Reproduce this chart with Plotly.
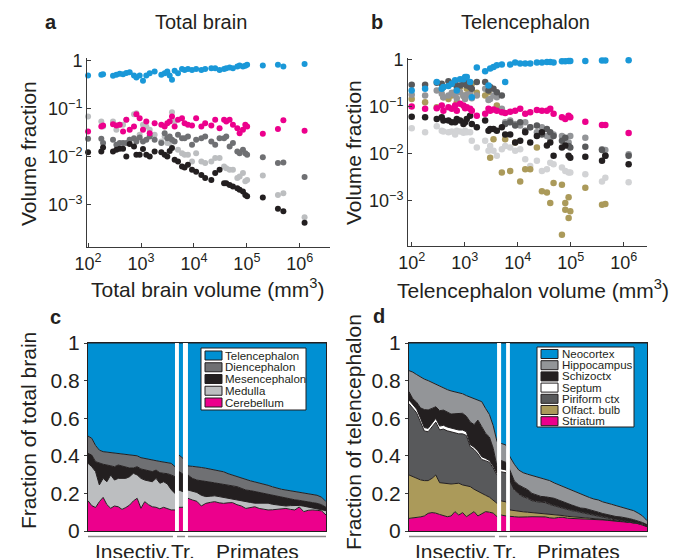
import numpy as np
import plotly.graph_objects as go

# ---------------- DATA ----------------
# Panel a: volume fraction of total brain vs total brain volume (mm^3)
a_volume = [100, 178, 192, 296, 343, 396, 458, 528, 612, 738, 818, 944, 1090, 1260, 1460, 1810,
            2420, 2800, 3140, 3480, 3850, 4320, 5000, 5950, 6660, 7700, 9200, 11000, 13800, 16300,
            21300, 25200, 30500, 37100, 40800, 47200, 54500, 66000, 72900, 84300, 93400, 101000,
            200000, 386000, 489000, 1230000]
a_telencephalon = [.495, .511, .528, .487, .511, .536, .528, .562, .581, .495, .45, .495, .383, .495, .553,
                   .60, .511, .553, .60, .495, .402, .619, .553, .681, .649, .681, .649, .681, .649, .681,
                   .703, .703, .649, .681, .703, .726, .703, .762, .80, .762, .787, .826, .80, .826, .762, .866]
a_cerebellum = [.0337, .0429, .045, .048, .045, .0464, .0337, .059, .0365, .0429, .0775, .064, .0365, .0545,
                .0311, .0503, .0464, .0429, .0503, .0545, .069, .0429, .059, .064, .0503, .0464, .045, .064,
                .0429, .0503, .045, .059, .0396, .059, .0545, .059, .0464, .0396, .0311, .0365, .0464, .0429,
                .0301, .038, .058, .035]
a_diencephalon = [.0237, .0237, .0193, .0226, .0178, .0193, .0193, .0193, .0226, .0245, .0209, .0253, .0209,
                  .0226, .0265, .0226, .0193, .0311, .0245, .0265, .0226, .0209, .0287, .0245, .0245, .0265,
                  .0178, .0226, .0245, .0265, .0209, .0178, .0245, .0245, .0265, .0164, .0193, .0129, .0119,
                  .014, .0119, .011, .0098, .0074, .0076, .0038]
a_medulla = [.0692, .0545, .0429, .0545, .0365, .0464, .0464, .059, .0226, .0775, .0812, .0287, .0464, .0429,
             .0365, .0287, .0209, .0265, .0193, .0193, .0853, .0545, .014, .0119, .011, .011, .008, .0119, .008,
             .0074, .008, .0094, .0094, .0063, .0058, .0054, .0054, .0036, .0039, .0046, .0031, .0033, .0041,
             .0016, .00175, .00055]
a_mesencephalon = [.0125, .0129, .0156, .0129, .014, .0147, .0147, .0102, .0184, .0164, .011, .011, .0145, .011,
                   .0102, .0129, .0125, .011, .0102, .0133, .0152, .0087, .008, .0063, .006, .0068, .0054, .0049,
                   .0042, .0036, .0033, .0046, .0054, .0028, .0028, .0026, .0024, .0022, .00205, .0019, .0016,
                   .0015, .00142, .00083, .00073, .00042]

# Panel b: volume fraction of telencephalon vs telencephalon volume (mm^3)
b_volume = [100, 179, 297, 369, 396, 493, 570, 659, 709, 819, 946, 1018, 1094, 1265, 1361, 1692, 2431, 2812,
            3022, 3494, 4039, 5022, 5806, 7218, 8974, 11150, 13870, 17230, 23020, 28640, 35580, 41130, 47550,
            68370, 79060, 91390, 98300, 188800, 389900, 450800, 1240000]
b_neocortex = [.224, .243, .338, .243, .264, .277, .311, .367, .224, .385, .385, .432, .432, .338, .161, .685,
               .572, .286, .652, .708, .768, .794, .338, .794, .877, .835, .835, .835, .877, .877, .906, .906,
               .877, .936, .936, .95, .95, .95, .968, .968, .98]
b_striatum = [.102, .091, .094, .107, .083, .098, .091, .107, .083, .116, .107, .094, .098, .091, .083, .065,
              .071, .091, .083, .088, .083, .077, .074, .079, .083, .091, .071, .077, .086, .083, .083, .091,
              .071, .060, .055, .065, .060, .0485, .041, .041, .0277]
b_schizocortex = [.062, .060, .055, .060, .051, .051, .047, .047, .055, .051, .043, .047, .055, .065, .043, .037,
                  .051, .031, .034, .034, .031, .037, .026, .026, .0175, .019, .029, .0175, .024, .029, .015,
                  .0175, .0091, .0137, .015, .0091, .0083, .0087, .0071, .0091, .006]
b_septum = [.035, .029, .0385, .031, .030, .029, .030, .026, .031, .030, .028, .031, .029, .029, .019, .0137,
            .019, .0116, .0148, .0116, .0091, .0126, .0148, .0137, .0116, .0126, .0077, .0055, .0071, .0043,
            .0047, .0065, .006, .0051, .0043, .004, .004, .0037, .0026, .0031, .0025]
b_olfactory = [.148, .126, .098, .243, .161, .148, .175, .206, .126, .264, .175, .161, .243, .206, .311, .2,
               .175, .206, .0083, .0206, .107, .004, .0206, .0043, .0175, .0026, .0047, .0047, .0137, .0016,
               .0015, .0009, .0024, .0022, .0009, .0012, .0006, .0019, .00083, .00086, .000107]
b_hippocampus = [.181, .175, .224, .19, .161, .175, .2, .181, .153, .206, .17, .148, .181, .19, .153, .175,
                 .243, .14, .148, .175, .161, .091, .047, .051, .043, .040, .047, .037, .029, .037, .024, .021,
                 .026, .024, .021, .0175, .024, .022, .0126, .0121, .0098]
b_piriform = [.296, .296, .327, .311, .264, .349, .311, .338, .264, .286, .311, .367, .286, .264, .243, .338,
              .338, .224, .264, .243, .206, .175, .043, .047, .040, .047, .031, .037, .040, .026, .034, .029,
              .024, .019, .022, .0148, .0137, .0142, .0121, .0091, .0091]
# additional olfactory-bulb readings (very small fractions)
b_olfactory_extra_volume = [68370, 91390, 79060]
b_olfactory_extra = [.00019, .00043, .00065]

# Panels c, d: species grouped (insectivores, tree shrews, primates)
group_names = ["Insectiv.", "Tr.", "Primates"]
group_sizes = [24, 2, 32]

c_cerebellum = [.161, .135, .125, .156, .179, .14, .121, .133, .129, .115, .125, .138, .16, .174, .121, .156,
                .14, .129, .126, .118, .126, .12, .112, .112,
                .126, .126,
                .174, .165, .158, .133, .147, .152, .156, .15, .147, .15, .151, .14, .133, .12, .125, .129,
                .12, .115, .112, .113, .115, .118, .12, .115, .112, .128, .103, .11, .112, .11, .107, .085]
c_medulla = [.199, .207, .191, .089, .101, .122, .177, .138, .151, .165, .155, .151, .147, .124, .159, .115,
             .125, .133, .154, .136, .136, .13, .108, .088,
             .092, .083,
             .044, .047, .047, .057, .036, .033, .031, .033, .031, .024, .019, .025, .027, .036, .027, .019,
             .029, .035, .036, .029, .023, .017, .013, .02, .025, .008, .029, .018, .012, .01, .009, .023]
c_mesencephalon = [.053, .062, .053, .115, .075, .089, .047, .071, .071, .065, .062, .046, .028, .044, .05, .053,
                   .055, .054, .044, .056, .045, .055, .078, .089,
                   .098, .094,
                   .08, .068, .066, .076, .079, .075, .069, .07, .07, .07, .07, .071, .067, .062, .063, .062,
                   .057, .05, .047, .046, .045, .044, .042, .035, .029, .027, .028, .027, .027, .027, .024, .018]
c_diencephalon = [.092, .089, .086, .07, .067, .069, .073, .074, .062, .066, .067, .073, .069, .058, .06, .061,
                  .06, .061, .05, .06, .06, .058, .062, .053,
                  .088, .084,
                  .048, .064, .071, .072, .072, .07, .071, .069, .067, .061, .057, .053, .053, .054, .052, .051,
                  .05, .05, .048, .047, .044, .043, .043, .044, .044, .044, .043, .044, .044, .043, .04, .03]
c_telencephalon = [.495, .507, .545, .57, .578, .58, .582, .584, .587, .589, .591, .592, .596, .60, .61, .615,
                   .62, .623, .626, .63, .633, .637, .64, .658,
                   .596, .613,
                   .654, .656, .658, .662, .666, .67, .673, .678, .685, .695, .703, .711, .72, .728, .733, .739,
                   .744, .75, .757, .765, .773, .778, .782, .786, .79, .793, .797, .801, .805, .81, .82, .844]

d_striatum = [.067, .069, .072, .075, .08, .094, .098, .095, .088, .08, .076, .08, .103, .085, .098, .076,
              .09, .103, .08, .09, .103, .10, .095, .076,
              .085, .08,
              .08, .076, .074, .073, .075, .076, .076, .076, .075, .07, .068, .072, .073, .068, .067, .067,
              .067, .065, .063, .062, .06, .059, .057, .053, .052, .05, .049, .045, .044, .039, .033, .023]
d_olfactory = [.231, .22, .212, .197, .188, .174, .182, .203, .169, .175, .177, .17, .149, .169, .147, .163,
               .146, .119, .13, .11, .087, .08, .067, .071,
               .075, .075,
               .032, .032, .03, .029, .025, .022, .02, .019, .018, .02, .019, .013, .009, .01, .008, .006,
               .005, .005, .005, .004, .004, .003, .001, .002, .001, .001, .001, .001, .001, .001, .001, .001]
d_piriform = [.379, .363, .344, .308, .264, .26, .273, .281, .281, .287, .28, .277, .27, .263, .272, .269,
              .212, .211, .20, .18, .184, .185, .173, .15,
              .155, .155,
              .155, .11, .092, .08, .074, .063, .06, .058, .058, .051, .047, .041, .039, .038, .033, .031,
              .027, .026, .024, .022, .017, .013, .011, .008, .006, .005, .004, .003, .001, .001, .001, .001]
d_septum = [.02, .02, .02, .02, .018, .018, .02, .02, .02, .02, .02, .02, .02, .02, .02, .02,
            .012, .012, .015, .015, .012, .01, .01, .01,
            .015, .015,
            .004, .004, .004, .004, .004, .004, .004, .004, .004, .004, .004, .004, .004, .004, .004, .004,
            .004, .004, .004, .004, .004, .004, .004, .004, .004, .004, .004, .004, .003, .003, .003, .001]
d_schizocortex = [.044, .031, .037, .055, .096, .098, .079, .062, .082, .081, .08, .075, .082, .089, .089, .082,
                  .12, .121, .165, .16, .134, .125, .095, .035,
                  .045, .04,
                  .053, .044, .045, .046, .042, .035, .032, .027, .027, .033, .036, .035, .03, .028, .026, .022,
                  .019, .02, .018, .018, .015, .014, .014, .013, .014, .015, .014, .013, .011, .009, .007, .008]
d_hippocampus = [.112, .142, .147, .163, .162, .156, .138, .119, .132, .12, .119, .123, .117, .11, .104, .11,
                 .132, .141, .107, .133, .132, .12, .12, .133,
                 .091, .092,
                 .071, .089, .079, .078, .082, .095, .098, .098, .096, .09, .082, .081, .081, .077, .076, .077,
                 .075, .066, .064, .06, .065, .062, .063, .062, .058, .053, .05, .049, .048, .042, .035, .021]
d_neocortex = [.147, .155, .168, .182, .192, .20, .21, .22, .228, .237, .248, .255, .259, .264, .27, .28,
               .288, .293, .303, .312, .348, .38, .44, .525,
               .534, .543,
               .605, .645, .676, .69, .698, .705, .71, .718, .722, .732, .744, .754, .764, .775, .786, .793,
               .803, .814, .822, .83, .835, .845, .85, .858, .865, .872, .878, .885, .892, .905, .92, .945]

# ---------------- STYLE ----------------
W, H = 683, 558
FONT = "Liberation Sans, Arial, Helvetica, sans-serif"
TXT = "#231f20"
AX = "#3a3a3a"
BLUE = "#0090d3"
BLUE_PT = "#1a98d8"
PINK = "#ec008c"
DGRAY = "#6f7073"
LGRAY = "#bcbec0"
BLACK = "#231f20"
MGRAY = "#939598"
PIR = "#58595b"
OLIVE = "#ab9a5a"
SEPT_PT = "#d2d3d5"


def fx(p):
    return p / W


def fy(p):
    return 1 - p / H


def positions(sizes, segs):
    out = []
    for n, (s0, s1) in zip(sizes, segs):
        out.extend(np.linspace(s0, s1, n).tolist())
    return out


# layout segments in fraction of the plot width
c_segs = [(0.0, 0.3655), (0.382, 0.399), (0.420, 1.0)]
d_segs = [(0.0, 0.370), (0.387, 0.408), (0.424, 1.0)]
c_x = positions(group_sizes, c_segs)
d_x = positions(group_sizes, d_segs)

fig = go.Figure()

# ---- panel a
for name, vals, col in [("Medulla", a_medulla, LGRAY), ("Diencephalon", a_diencephalon, DGRAY),
                        ("Mesencephalon", a_mesencephalon, BLACK), ("Cerebellum", a_cerebellum, PINK),
                        ("Telencephalon", a_telencephalon, BLUE_PT)]:
    fig.add_trace(go.Scatter(x=a_volume, y=vals, mode="markers", name=name, xaxis="x", yaxis="y",
                             marker=dict(size=6, color=col, line=dict(width=0)), showlegend=False,
                             cliponaxis=False))

# ---- panel b
for name, xs, vals, col in [("Septum", b_volume, b_septum, SEPT_PT),
                            ("Olfact. bulb", b_volume + b_olfactory_extra_volume,
                             b_olfactory + b_olfactory_extra, OLIVE),
                            ("Hippocampus", b_volume, b_hippocampus, MGRAY),
                            ("Piriform ctx", b_volume, b_piriform, PIR),
                            ("Schizoctx", b_volume, b_schizocortex, BLACK),
                            ("Striatum", b_volume, b_striatum, PINK),
                            ("Neocortex", b_volume, b_neocortex, BLUE_PT)]:
    fig.add_trace(go.Scatter(x=xs, y=vals, mode="markers", name=name, xaxis="x2", yaxis="y2",
                             marker=dict(size=6.5, color=col, line=dict(width=0)), showlegend=False,
                             cliponaxis=False))

# ---- panel c (stacked)
c_layers = [("Cerebellum", c_cerebellum, PINK), ("Medulla", c_medulla, LGRAY),
            ("Mesencephalon", c_mesencephalon, BLACK), ("Diencephalon", c_diencephalon, DGRAY),
            ("Telencephalon", c_telencephalon, BLUE)]
for name, vals, col in c_layers:
    fig.add_trace(go.Scatter(x=c_x, y=vals, mode="lines", name=name, xaxis="x3", yaxis="y3",
                             stackgroup="c", fillcolor=col, line=dict(color=BLACK, width=1),
                             showlegend=False))

# ---- panel d (stacked)
d_layers = [("Striatum", d_striatum, PINK), ("Olfact. bulb", d_olfactory, OLIVE),
            ("Piriform ctx", d_piriform, PIR), ("Septum", d_septum, "#ffffff"),
            ("Schizoctx", d_schizocortex, BLACK), ("Hippocampus", d_hippocampus, MGRAY),
            ("Neocortex", d_neocortex, BLUE)]
for name, vals, col in d_layers:
    fig.add_trace(go.Scatter(x=d_x, y=vals, mode="lines", name=name, xaxis="x4", yaxis="y4",
                             stackgroup="d", fillcolor=col, line=dict(color=BLACK, width=1),
                             showlegend=False))

log_ticks_x = [1e2, 1e3, 1e4, 1e5, 1e6]
log_text_x = ["10<sup>2</sup>", "10<sup>3</sup>", "10<sup>4</sup>", "10<sup>5</sup>", "10<sup>6</sup>"]
log_ticks_y = [1, 0.1, 0.01, 0.001]
log_text_y = ["1", "10<sup>\u22121</sup>", "10<sup>\u22122</sup>", "10<sup>\u22123</sup>"]

common_log = dict(type="log", showgrid=False, zeroline=False, showline=True, linecolor=AX, linewidth=1,
                  ticks="inside", ticklen=4, tickcolor=AX, automargin=False,
                  tickfont=dict(size=18, color=TXT, family=FONT))
common_lin = dict(showgrid=False, zeroline=False, showline=True, linecolor=BLACK, linewidth=1, mirror=True,
                  automargin=False)

fig.update_layout(
    template="none",
    width=W, height=H, margin=dict(l=0, r=0, t=0, b=0, autoexpand=False),
    paper_bgcolor="white", plot_bgcolor="white",
    font=dict(family=FONT, color=TXT),
    showlegend=False,
    hovermode=False,
    xaxis=dict(common_log, domain=[fx(87), fx(330)], range=[1.98, 6.57], anchor="y",
               tickvals=log_ticks_x, ticktext=log_text_x),
    yaxis=dict(common_log, domain=[fy(247), fy(58)], range=[-3.88, 0.06], anchor="x",
               tickvals=log_ticks_y, ticktext=log_text_y),
    xaxis2=dict(common_log, domain=[fx(408), fx(647)], range=[1.93, 6.44], anchor="y2",
                tickvals=log_ticks_x, ticktext=log_text_x),
    yaxis2=dict(common_log, domain=[fy(246), fy(58)], range=[-3.96, 0.04], anchor="x2",
                tickvals=log_ticks_y, ticktext=log_text_y),
    xaxis3=dict(common_lin, domain=[fx(88), fx(326)], range=[0, 1], anchor="y3", showticklabels=False,
                ticks=""),
    yaxis3=dict(common_lin, domain=[fy(531), fy(343)], range=[0, 1], anchor="x3",
                tickvals=[0, 0.2, 0.4, 0.6, 0.8, 1], ticktext=["0", "0.2", "0.4", "0.6", "0.8", "1"],
                ticks="outside", ticklen=3, tickcolor=AX, tickfont=dict(size=21, color=TXT, family=FONT)),
    xaxis4=dict(common_lin, domain=[fx(409), fx(647)], range=[0, 1], anchor="y4", showticklabels=False,
                ticks=""),
    yaxis4=dict(common_lin, domain=[fy(531), fy(343)], range=[0, 1], anchor="x4",
                tickvals=[0, 0.2, 0.4, 0.6, 0.8, 1], ticktext=["0", "0.2", "0.4", "0.6", "0.8", "1"],
                ticks="outside", ticklen=3, tickcolor=AX, tickfont=dict(size=21, color=TXT, family=FONT)),
)

shapes = []
annotations = []

# white separators between groups
for xr, segs in [("x3", c_segs), ("x4", d_segs)]:
    for i in range(len(segs) - 1):
        shapes.append(dict(type="rect", xref=xr, yref=xr.replace("x", "y") + " domain",
                           x0=segs[i][1], x1=segs[i + 1][0], y0=0, y1=1.0,
                           fillcolor="white", line=dict(width=0), layer="above"))

# group brackets & labels under panels c and d
c_label_px = [132, 183, 257]
d_label_px = [452, 505, 578]
for xr, segs, lab_px in [("x3", [(0.0, 0.357), (0.374, 0.408), (0.42, 1.0)], c_label_px),
                         ("x4", [(0.0, 0.361), (0.378, 0.412), (0.424, 1.0)], d_label_px)]:
    for (s0, s1) in segs:
        shapes.append(dict(type="line", xref=xr, yref="paper", x0=s0, x1=s1, y0=fy(536.5), y1=fy(536.5),
                           line=dict(color="#8a8a8a", width=1.5)))
    for name, p in zip(group_names, lab_px):
        annotations.append(dict(text=name, xref="paper", yref="paper", x=fx(p), y=fy(551),
                                xanchor="center", yanchor="middle", showarrow=False,
                                font=dict(size=21, color=TXT, family=FONT)))


# custom legends
def add_legend(box, rows, row0, dy, sw_x, text_x):
    x0, x1, y0, y1 = box
    shapes.append(dict(type="rect", xref="paper", yref="paper", x0=fx(x0), x1=fx(x1), y0=fy(y1), y1=fy(y0),
                       fillcolor="white", line=dict(color=BLACK, width=1), layer="above"))
    for i, (name, col) in enumerate(rows):
        cy = row0 + i * dy
        shapes.append(dict(type="rect", xref="paper", yref="paper", x0=fx(sw_x[0]), x1=fx(sw_x[1]),
                           y0=fy(cy + 4.5), y1=fy(cy - 4.5), fillcolor=col,
                           line=dict(color=BLACK, width=1), layer="above"))
        annotations.append(dict(text=name, xref="paper", yref="paper", x=fx(text_x), y=fy(cy),
                                xanchor="left", yanchor="middle", showarrow=False,
                                font=dict(size=11.5, color=TXT, family=FONT)))


add_legend((201, 306, 348, 410), [(n, c) for n, _, c in reversed(c_layers)], 355.5, 11.75, (205, 222), 222.5)
add_legend((537, 634, 347, 427), [(n, c) for n, _, c in reversed(d_layers)], 354, 11.2, (541, 558), 560)


# titles, panel letters, axis titles
def txt(s, xpx, ypx, size=21, bold=False, angle=0, anchor="center"):
    annotations.append(dict(text=("<b>%s</b>" % s) if bold else s, xref="paper", yref="paper",
                            x=fx(xpx), y=fy(ypx), xanchor=anchor, yanchor="middle", showarrow=False,
                            textangle=angle, font=dict(size=size, color=TXT, family=FONT)))


txt("a", 51, 22, size=20, bold=True)
txt("Total brain", 201, 22, size=20)
txt("b", 377, 22, size=20, bold=True)
txt("Telencephalon", 525, 22, size=20)
txt("c", 55, 317, size=20, bold=True)
txt("d", 379, 316, size=20, bold=True)
txt("Volume fraction", 28, 154, angle=-90)
txt("Total brain volume (mm<sup>3</sup>)", 207, 288)
txt("Volume fraction", 353, 153, angle=-90)
txt("Telencephalon volume (mm<sup>3</sup>)", 533, 289)
txt("Fraction of total brain", 28, 431, angle=-90)
txt("Fraction of telencephalon", 353, 432, angle=-90)

fig.update_layout(shapes=shapes, annotations=annotations)
fig.write_html("out.html", config={"displayModeBar": False, "staticPlot": True},
               post_script="document.body.style.margin='0px';document.body.style.overflow='hidden';")
